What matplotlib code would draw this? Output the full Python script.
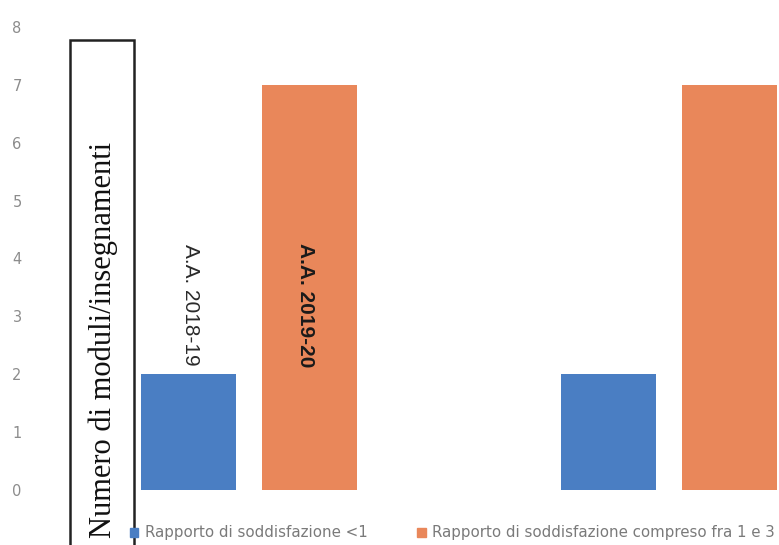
import matplotlib.pyplot as plt
import matplotlib.patches as mpatches
import numpy as np

# data
groups = ["Gruppo 1", "Gruppo 2"]
serie_lt1 = [2, 2]
serie_1_3 = [7, 7]
serie_names = ["Rapporto di soddisfazione <1", "Rapporto di soddisfazione compreso fra 1 e 3"]
bar_notes = ["A.A. 2018-19", "A.A. 2019-20"]
y_ticks = [0, 1, 2, 3, 4, 5, 6, 7, 8]

blue = "#4a7ec3"
orange = "#e9875a"
grey = "#8c8c8c"

W, H = 779, 545
fig = plt.figure(figsize=(W / 100, H / 100), dpi=100)

# axes placed so that bars land where they are in the picture
ax_left, ax_right = 30, 779
ax_bottom, ax_top = 490, 27
ax = fig.add_axes([ax_left / W, 1 - ax_bottom / H, (ax_right - ax_left) / W, (ax_bottom - ax_top) / H])

x = np.arange(len(groups))
width = 0.226
off = 0.144
ax.bar(x - off, serie_lt1, width, color=blue, label=serie_names[0])
ax.bar(x + off, serie_1_3, width, color=orange, label=serie_names[1])

ax.set_xlim((ax_left - 249) / 420, (ax_right - 249) / 420)
ax.set_ylim(0, 8)
ax.set_yticks(y_ticks)
ax.set_xticks([])
ax.tick_params(axis="y", length=0, pad=6, labelsize=10.5, labelcolor=grey)
for s in ax.spines.values():
    s.set_visible(False)

# rotated year notes on the first group
ax.text(x[0] - off + 0.005, 3.2, bar_notes[0], rotation=270, ha="center", va="center",
        fontsize=15, color="#2a2a2a", family="Liberation Sans")
ax.text(x[0] + off - 0.01, 3.2, bar_notes[1], rotation=270, ha="center", va="center",
        fontsize=15, color="#1a1a1a", family="Liberation Sans", fontweight="semibold")

# boxed y label
box = mpatches.Rectangle((70 / W, -0.05), 64 / W, 1 - 40 / H + 0.05, transform=fig.transFigure,
                         fill=False, edgecolor="#222222", linewidth=1.8, clip_on=False)
fig.patches.append(box)
fig.text(103 / W, 1 - 340 / H, "Numero di moduli/insegnamenti", rotation=90, ha="center", va="center",
         fontsize=22, family="Liberation Serif", color="#111111")

handles = [mpatches.Patch(color=blue), mpatches.Patch(color=orange)]
fig.legend(handles, serie_names, loc="center left", bbox_to_anchor=(130 / W, 1 - 533 / H),
           ncol=2, frameon=False, labelcolor="#7a7a7a",
           prop={"family": ["Liberation Sans Narrow", "DejaVu Sans"], "size": 10.8},
           handlelength=0.55, handleheight=0.55, handletextpad=0.45, columnspacing=3.3,
           borderpad=0, borderaxespad=0)

fig.savefig("out.png", dpi=100)
